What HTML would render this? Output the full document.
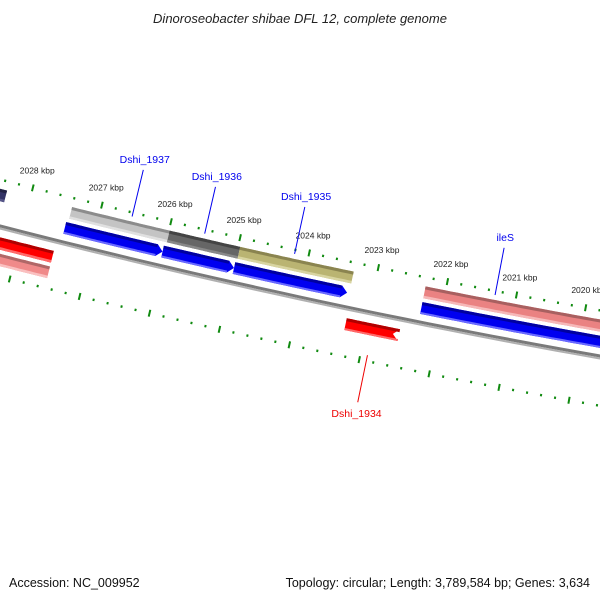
<!DOCTYPE html>
<html><head><meta charset="utf-8"><style>
html,body{margin:0;padding:0;background:#fff}
svg{display:block}
text{font-family:"Liberation Sans",sans-serif}
</style></head><body>
<svg id="map" width="600" height="600" viewBox="0 0 600 600" xmlns="http://www.w3.org/2000/svg">
<text x="300" y="23" text-anchor="middle" font-size="13" font-style="italic" fill="#222">Dinoroseobacter shibae DFL 12, complete genome</text>
<g id="ticks"></g>
<g id="feat"></g>
<g id="labs"></g>
<text x="9" y="587" font-size="12.5" fill="#111">Accession: NC_009952</text>
<text x="590" y="587" text-anchor="end" font-size="12.5" fill="#111">Topology: circular; Length: 3,789,584 bp; Genes: 3,634</text>
</svg>
<script>
// data (kbp)
var tickMajors = [2020, 2021, 2022, 2023, 2024, 2025, 2026, 2027, 2028, 2029];
var tickLabels = ["2020 kbp","2021 kbp","2022 kbp","2023 kbp","2024 kbp","2025 kbp","2026 kbp","2027 kbp","2028 kbp","2029 kbp"];
var featNames  = ["navy-cog","cog-1937","cog-1936","cog-1935","cog-iles","gene-1937","gene-1936","gene-1935","gene-iles","gene-left-red","cog-left-pink","gene-1934"];
var featStart  = [2028.8, 2027.40, 2025.99, 2024.97, 2022.29, 2027.43, 2026.02, 2024.99, 2022.29, 2029.0, 2029.0, 2023.29];
var featEnd    = [2028.34,2025.99, 2024.97, 2023.33, 2019.5, 2026.02, 2024.99, 2023.36, 2019.5, 2027.5, 2027.5, 2022.61];
var featLane   = [0,0,0,0,0,1,1,1,1,2,3,2];
var featStrand = [0,0,0,0,0,1,1,1,1,0,0,-1];
var featColor  = ["#333366","#c4c4c4","#666666","#bab472","#ea8282","#0000f0","#0000f0","#0000f0","#0000f0","#ff0000","#f08a8a","#ff0000"];
var featTop    = ["#222244","#8c8c8c","#444444","#8a8450","#a86060","#0000a0","#0000a0","#0000a0","#0000a0","#b00000","#b06868","#b00000"];
var featBot    = ["#555588","#e0e0e0","#888888","#d8d4a0","#f6b8b8","#6a6aff","#6a6aff","#6a6aff","#6a6aff","#ff6a6a","#fac0c0","#ff6a6a"];
var geneLabels = ["Dshi_1937","Dshi_1936","Dshi_1935","ileS","Dshi_1934"];
var geneLabelPos = [2026.55, 2025.5, 2024.2, 2021.3, 2022.9];
var geneLabelSide = [-1,-1,-1,-1,1];
var geneLabelColor = ["#0000ee","#0000ee","#0000ee","#0000ee","#ee0000"];

var NS="http://www.w3.org/2000/svg";
function bx(p){return 91+(2027-p)*69.5;}
function P(x,v){var y=227+0.2567*x-6.67e-5*x*x;var s=0.2567-1.334e-4*x;var N=Math.sqrt(1+s*s);return [x-v*s/N,y+v/N];}
function mk(t,a,parent){var e=document.createElementNS(NS,t);for(var k in a)e.setAttribute(k,a[k]);parent.appendChild(e);return e;}
function strip(x1,x2,v1,v2){var pts=[],n=30,i;for(i=0;i<=n;i++){pts.push(P(x1+(x2-x1)*i/n,v1));}for(i=n;i>=0;i--){pts.push(P(x1+(x2-x1)*i/n,v2));}return pts.map(function(p){return p[0].toFixed(1)+","+p[1].toFixed(1)}).join(" ");}
var svg=document.getElementById('map');
var tg=document.getElementById('ticks'),fg=document.getElementById('feat'),lg=document.getElementById('labs');

// backbone
var bb=mk('polygon',{points:strip(-20,620,-2.5,0.5),fill:'#7a7a7a'},fg);


var bb2=mk('polygon',{points:strip(-20,620,0.5,2.5),fill:'#b0b0b0'},fg);



// ticks
var lo=tickMajors[0]-0.6,hi=tickMajors[tickMajors.length-1];
for(var k=0;k<=Math.round((hi-lo)/0.2);k++){
  var p=lo+k*0.2;var isMaj=Math.abs(p-Math.round(p))<0.01;
  var x=bx(p);
  [-46,48].forEach(function(c){
    var L=isMaj?3.5:1.2;var a=P(x,c-L),b=P(x,c+L);
    var ln=mk('line',{x1:a[0],y1:a[1],x2:b[0],y2:b[1],stroke:'#108a10','stroke-width':isMaj?2:2},tg);
    
    
  });
}
tickMajors.forEach(function(p,i){
  var q=P(bx(p),-64);
  var t=mk('text',{x:q[0],y:q[1]+3,'text-anchor':'middle','font-size':'8.5',fill:'#222'},tg);
  t.textContent=tickLabels[i];
  
  
});

// features
var laneV=[[-37,-25],[-21,-9],[10,22],[26,38]];
featNames.forEach(function(nm,i){
  var x1=bx(featStart[i]),x2=bx(featEnd[i]);var v1=laneV[featLane[i]][0],v2=laneV[featLane[i]][1];
  var g=mk('g',{},fg);
  
  
  var pts;
  if(featStrand[i]!==0){
    var tipBase=featStrand[i]>0?x2-6:x2+6;var a=[],n=20,j,vm=(v1+v2)/2;
    for(j=0;j<=n;j++)a.push(P(x1+(tipBase-x1)*j/n,v1));
    a.push(P(x2,vm));
    for(j=n;j>=0;j--)a.push(P(x1+(tipBase-x1)*j/n,v2));
    pts=a.map(function(p){return p[0].toFixed(1)+","+p[1].toFixed(1)}).join(" ");
    mk('polygon',{points:pts,fill:featColor[i]},g);
    mk('polygon',{points:strip(x1,tipBase,v1,v1+3),fill:featTop[i]},g);
    mk('polygon',{points:strip(x1,tipBase,v2-2,v2),fill:featBot[i]},g);
  } else {
    mk('polygon',{points:strip(x1,x2,v1,v2),fill:featColor[i]},g);
    mk('polygon',{points:strip(x1,x2,v1,v1+3),fill:featTop[i]},g);
    mk('polygon',{points:strip(x1,x2,v2-2.5,v2),fill:featBot[i]},g);
  }
});

// gene labels
geneLabels.forEach(function(nm,i){
  var x=bx(geneLabelPos[i]);var side=geneLabelSide[i];
  var a=P(x,side*42),b=P(x,side*90),c=P(x,side*96);
  var ln=mk('line',{x1:a[0],y1:a[1],x2:b[0],y2:b[1],stroke:geneLabelColor[i],'stroke-width':1},lg);
  
  
  var t=mk('text',{x:c[0],y:side<0?c[1]-1:c[1]+9,'text-anchor':'middle','font-size':'10.5',fill:geneLabelColor[i]},lg);
  t.textContent=nm;
  
  
});
</script>
</body></html>
